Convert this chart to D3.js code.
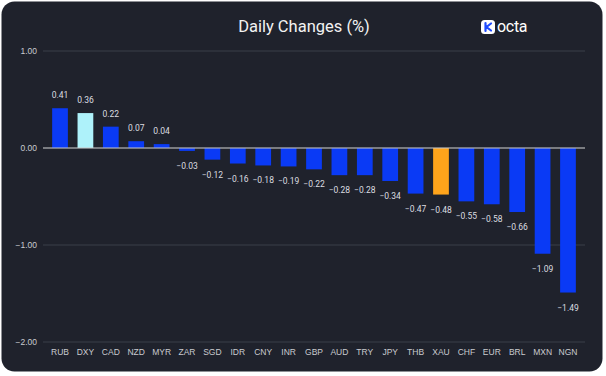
<!DOCTYPE html>
<html><head><meta charset="utf-8">
<script src="https://cdn.jsdelivr.net/npm/d3@7"></script>
<style>html,body{margin:0;padding:0;background:#fff;}svg{display:block;font-family:Roboto,"Noto Sans",sans-serif;}</style>
</head><body>
<svg id="c" width="606" height="376"></svg>
<script>
const categories = ["RUB","DXY","CAD","NZD","MYR","ZAR","SGD","IDR","CNY","INR","GBP","AUD","TRY","JPY","THB","XAU","CHF","EUR","BRL","MXN","NGN"];
const values = [0.41,0.36,0.22,0.07,0.04,-0.03,-0.12,-0.16,-0.18,-0.19,-0.22,-0.28,-0.28,-0.34,-0.47,-0.48,-0.55,-0.58,-0.66,-1.09,-1.49];
const yTicks = [1,0,-1,-2];
const highlight = {"DXY":"#aef2fa","XAU":"#ffa41b"};
const baseColor = "#0a3af5";

const svg = d3.select("#c");
svg.append("rect").attr("x",1.5).attr("y",1.5).attr("width",601).attr("height",370).attr("rx",13).attr("fill","#1f222c");

const x = d3.scaleBand().domain(categories).range([43,585]).paddingInner(0.38).paddingOuter(0.36);
const y = d3.scaleLinear().domain([-2,1]).range([342,51]);

// gridlines
svg.append("g").selectAll("line").data(yTicks).join("line")
  .attr("x1",43).attr("x2",585).attr("y1",d=>y(d)).attr("y2",d=>y(d))
  .attr("stroke","#3a3e49").attr("stroke-width",1);

// y labels
const yAxis = d3.axisLeft(y).tickValues(yTicks).tickFormat(d3.format(".2f")).tickSize(0).tickPadding(0);
const ya = svg.append("g").attr("transform","translate(37,0)").call(yAxis);
ya.select(".domain").remove();
ya.selectAll("text").attr("fill","#c9cbd0").attr("font-size",8.5);

// bars
svg.append("g").selectAll("rect").data(categories).join("rect")
  .attr("x",d=>x(d)).attr("width",x.bandwidth())
  .attr("y",(d,i)=>y(Math.max(0,values[i])))
  .attr("height",(d,i)=>Math.abs(y(values[i])-y(0)))
  .attr("fill",d=>highlight[d]||baseColor);

// zero line
svg.append("line").attr("x1",43).attr("x2",585).attr("y1",y(0)).attr("y2",y(0))
  .attr("stroke","#c8c8c8").attr("stroke-width",1.2);

// value labels
svg.append("g").selectAll("text").data(categories).join("text")
  .attr("x",d=>x(d)+x.bandwidth()/2)
  .attr("y",(d,i)=>values[i]>=0 ? y(values[i])-10 : y(values[i])+18)
  .attr("text-anchor","middle").attr("font-size",8.5).attr("fill","#dcdde0")
  .text((d,i)=>d3.format(".2f")(values[i]));

// x labels
const xAxis = d3.axisBottom(x).tickSize(0).tickPadding(0);
const xa = svg.append("g").attr("transform","translate(0,349)").call(xAxis);
xa.select(".domain").remove();
xa.selectAll("text").attr("fill","#c9cbd0").attr("font-size",8.5);

// title
svg.append("text").attr("x",304).attr("y",32).attr("text-anchor","middle")
  .attr("font-size",16.5).attr("font-weight",400).attr("fill","#f2f2f2").text("Daily Changes (%)");

// logo
const lg = svg.append("g").attr("transform","translate(481,20)");
lg.append("rect").attr("width",14).attr("height",14).attr("rx",3.5).attr("fill","#ffffff");
lg.append("path").attr("d","M4.5,3 L4.5,11 M10,3.5 L5.5,7 L10,10.5").attr("stroke","#1f4cff").attr("stroke-width",2.2).attr("fill","none").attr("stroke-linecap","round");
svg.append("text").attr("x",497).attr("y",32).attr("font-size",16).attr("font-weight",400).attr("fill","#ffffff").attr("letter-spacing",-0.3).text("octa");
</script>
</body></html>
